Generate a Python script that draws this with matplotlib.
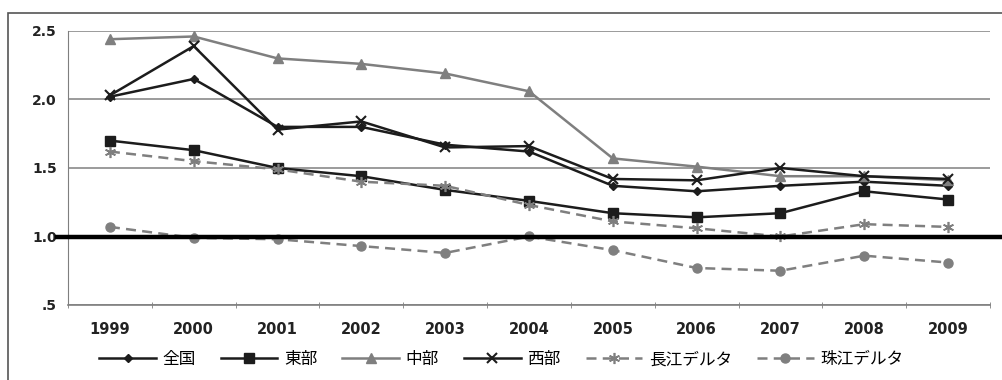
import numpy as np
import matplotlib.pyplot as plt
from matplotlib.patches import Rectangle
from matplotlib.lines import Line2D

plt.rcParams['font.family'] = ['Noto Sans CJK JP', 'DejaVu Sans']

## the data
years = ['1999', '2000', '2001', '2002', '2003', '2004',
         '2005', '2006', '2007', '2008', '2009']
zenkoku = [2.02, 2.15, 1.80, 1.80, 1.67, 1.62, 1.37, 1.33, 1.37, 1.40, 1.37]
toubu = [1.70, 1.63, 1.50, 1.44, 1.34, 1.26, 1.17, 1.14, 1.17, 1.33, 1.27]
chuubu = [2.44, 2.46, 2.30, 2.26, 2.19, 2.06, 1.57, 1.51, 1.44, 1.44, 1.41]
seibu = [2.03, 2.39, 1.78, 1.84, 1.65, 1.66, 1.42, 1.41, 1.50, 1.44, 1.42]
choukou = [1.62, 1.55, 1.49, 1.40, 1.37, 1.23, 1.11, 1.06, 1.00, 1.09, 1.07]
shukou = [1.07, 0.99, 0.98, 0.93, 0.88, 1.00, 0.90, 0.77, 0.75, 0.86, 0.81]

names = ['全国', '東部', '中部', '西部', '長江デルタ', '珠江デルタ']

fig = plt.figure(figsize=(10.02, 3.8), dpi=100)
ax = fig.add_axes([68/1002, 75/380, 922/1002, 274/380])

x = np.arange(len(years))
black = '#1c1c1c'
gray = '#7f7f7f'

ax.plot(x, zenkoku, color=black, lw=1.8, marker='D', ms=4.5, label=names[0])
ax.plot(x, toubu, color=black, lw=1.8, marker='s', ms=6.5, label=names[1])
ax.plot(x, chuubu, color=gray, lw=1.8, marker='^', ms=7, label=names[2])
ax.plot(x, seibu, color=black, lw=1.8, marker='x', ms=7, mew=1.5, label=names[3])
ax.plot(x, choukou, color=gray, lw=1.8, ls=(0, (4, 2.5)), marker=(6, 2, 0),
        ms=8, mew=1.2, mec=gray, label=names[4])
ax.plot(x, shukou, color=gray, lw=1.8, ls=(0, (4, 2.5)), marker='o', ms=6.5,
        label=names[5])

# axes and labels
ax.set_xlim(-0.5, len(years) - 0.5)
ax.set_ylim(0.5, 2.5)
ax.set_yticks([0.5, 1.0, 1.5, 2.0, 2.5])
ax.set_yticklabels(['.5', '1.0', '1.5', '2.0', '2.5'], fontsize=10,
                   fontweight='bold', color='#222222', family='DejaVu Sans')
ax.set_xticks(x)
ax.set_xticklabels(years, fontsize=10.5, fontweight='bold', color='#222222',
                   family='DejaVu Sans')
ax.set_xticks(np.arange(len(years) + 1) - 0.5, minor=True)
ax.tick_params(axis='x', which='major', length=0, pad=12)
ax.tick_params(axis='x', which='minor', length=4, color=gray, direction='inout')
ax.tick_params(axis='y', length=0, pad=8)

ax.yaxis.grid(True, color='#8a8a8a', lw=1.2)
ax.set_axisbelow(True)
for s in ['top', 'right']:
    ax.spines[s].set_visible(False)
ax.spines['left'].set_color(gray)
ax.spines['bottom'].set_color(gray)
ax.spines['bottom'].set_linewidth(1.2)

# thick reference line at 1.0 across the whole figure
y1 = ax.transData.transform((0, 1.0))[1] / fig.bbox.height
fig.add_artist(Line2D([57/1002, 1.0], [y1, y1], color='black', lw=3.2))

# outer frame
fig.add_artist(Rectangle((8/1002, -0.01), 1.0, 1 - 13/380 + 0.01,
                         fill=False, ec='#555555', lw=1.2))

ax.legend(loc='center', bbox_to_anchor=(0.47, -0.2), ncol=6, frameon=False,
          fontsize=12, handlelength=3.4, columnspacing=1.5, handletextpad=0.4)

fig.savefig('out.png', dpi=100)
